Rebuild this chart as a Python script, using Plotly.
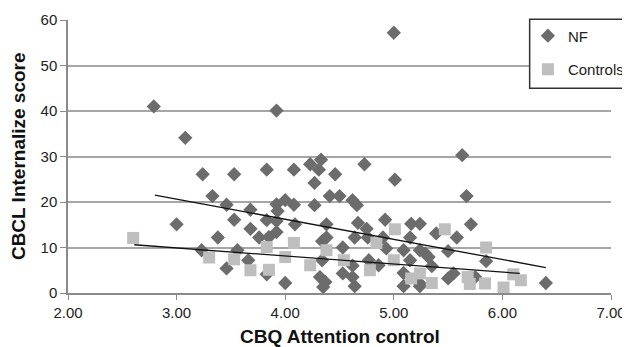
import plotly.graph_objects as go

# ---- data ----
nf_x = [2.79, 3.08, 3.92, 5.00, 5.63, 3.24, 3.53, 3.83, 4.08, 4.23, 4.33, 4.31, 4.46, 4.73, 5.01,
        4.27, 3.33, 4.41, 4.50, 5.67, 3.46, 3.68, 3.92, 3.93, 4.00, 4.08, 4.27, 4.62, 4.66, 3.00,
        3.53, 3.83, 3.92, 4.09, 4.38, 4.67, 4.92, 5.16, 5.24, 5.71, 3.68, 4.75, 5.39, 3.38, 3.76,
        3.85, 3.92, 4.34, 4.38, 4.64, 4.76, 4.90, 5.15, 5.58, 4.53, 4.93, 3.23, 3.56, 5.09, 5.24,
        5.29, 5.32, 5.50, 3.66, 4.34, 4.77, 5.15, 5.85, 4.86, 4.62, 5.35, 3.46, 3.83, 4.53, 5.09,
        5.55, 5.50, 4.62, 4.32, 5.75, 4.37, 4.00, 6.40, 5.24, 4.35, 4.64, 5.09, 5.24]
nf_y = [41.0, 34.1, 40.1, 57.2, 30.3, 26.1, 26.1, 27.1, 27.1, 28.3, 29.3, 27.1, 26.1, 28.3, 24.9,
        24.2, 21.3, 21.3, 21.3, 21.3, 19.4, 18.3, 19.5, 18.0, 20.4, 19.4, 19.3, 20.4, 19.3, 15.1,
        16.1, 16.0, 15.8, 15.1, 15.1, 15.4, 16.1, 15.2, 15.2, 15.1, 14.1, 14.1, 13.1, 12.2, 12.2,
        12.3, 13.4, 11.4, 12.2, 12.2, 12.2, 12.2, 12.2, 12.2, 10.0, 9.8, 9.4, 9.4, 9.4, 9.4,
        8.7, 7.9, 9.2, 7.2, 7.2, 7.2, 7.2, 7.0, 6.1, 6.0, 5.9, 5.4, 4.1, 4.3, 4.4,
        4.3, 3.2, 3.5, 3.5, 3.5, 2.4, 2.2, 2.2, 2.1, 1.3, 1.5, 1.5, 1.5]

ctrl_x = [2.60, 3.30, 3.53, 3.83, 4.08, 4.00, 3.68, 3.85, 4.23, 4.38, 4.54, 4.84, 4.78, 5.01,
          5.47, 5.00, 5.16, 5.24, 5.35, 5.85, 5.68, 5.70, 5.84, 6.01, 6.10, 6.17]
ctrl_y = [12.1, 7.8, 7.4, 10.1, 11.0, 7.9, 5.0, 5.1, 6.1, 9.4, 7.2, 11.0, 5.0, 14.0,
          14.0, 7.2, 3.2, 4.3, 2.2, 10.0, 3.5, 2.0, 2.1, 1.2, 4.1, 2.8]

nf_trend_x = [2.80, 6.40]
nf_trend_y = [21.5, 5.6]
ctrl_trend_x = [2.61, 6.16]
ctrl_trend_y = [10.6, 4.3]

x_ticks = [2, 3, 4, 5, 6, 7]
y_ticks = [0, 10, 20, 30, 40, 50, 60]

FONT = "Liberation Sans, Arial, sans-serif"

fig = go.Figure()
fig.add_trace(go.Scatter(
    x=nf_x, y=nf_y, mode="markers", name="NF", legendgroup="nf",
    marker=dict(symbol="diamond", size=11, color="#6c6c6c", line=dict(width=0))))
fig.add_trace(go.Scatter(
    x=ctrl_x, y=ctrl_y, mode="markers", name="Controls", legendgroup="ctrl",
    marker=dict(symbol="square", size=12, color="#bebebe", line=dict(width=0))))
fig.add_trace(go.Scatter(
    x=nf_trend_x, y=nf_trend_y, mode="lines", showlegend=False,
    line=dict(color="#111111", width=1.3)))
fig.add_trace(go.Scatter(
    x=ctrl_trend_x, y=ctrl_trend_y, mode="lines", showlegend=False,
    line=dict(color="#111111", width=1.3)))

# the page body has an 8px margin, so the figure is sized to 622x339
fig.update_layout(
    template="none",
    width=622, height=339,
    margin=dict(l=59.5, r=18.5, t=11.7, b=54.3, pad=0, autoexpand=False),
    paper_bgcolor="white", plot_bgcolor="white",
    font=dict(family=FONT, size=15, color="#222222"),
    legend=dict(x=0.847, y=1.002, xanchor="left", yanchor="top",
                bgcolor="rgba(0,0,0,0)", borderwidth=0, tracegroupgap=11,
                font=dict(family=FONT, size=15, color="#222222"), itemwidth=30),
    shapes=[dict(type="rect", xref="paper", yref="paper",
                 x0=0.8502, x1=1.06, y0=0.7498, y1=1.0026,
                 line=dict(color="#333333", width=1.5), fillcolor="white", layer="above")],
    annotations=[
        dict(text="<b>CBQ Attention control</b>", xref="paper", yref="paper",
             x=0.5, y=-0.158, xanchor="center", yanchor="middle", showarrow=False,
             font=dict(family=FONT, size=19, color="#111111")),
        dict(text="<b>CBCL Internalize score</b>", xref="paper", yref="paper",
             x=-0.091, y=0.5, xanchor="center", yanchor="middle", showarrow=False,
             textangle=-90, font=dict(family=FONT, size=19, color="#111111")),
    ],
)
fig.update_xaxes(range=[2, 7], tickvals=x_ticks, ticktext=[f"{v:.2f}" for v in x_ticks],
                 automargin=False,
                 showgrid=False, zeroline=False, showline=True, linecolor="#8a8a8a",
                 linewidth=1.5, ticks="outside", ticklen=5, tickcolor="#8a8a8a",
                 tickfont=dict(family=FONT, size=15, color="#222222"))
fig.update_yaxes(range=[0, 60], tickvals=y_ticks, showgrid=True, gridcolor="#a6a6a6",
                 automargin=False,
                 gridwidth=1.5, zeroline=False, showline=True, linecolor="#8a8a8a",
                 linewidth=1.5, ticks="outside", ticklen=6, tickcolor="#8a8a8a",
                 tickfont=dict(family=FONT, size=15, color="#222222"))

fig.write_html("out.html")
